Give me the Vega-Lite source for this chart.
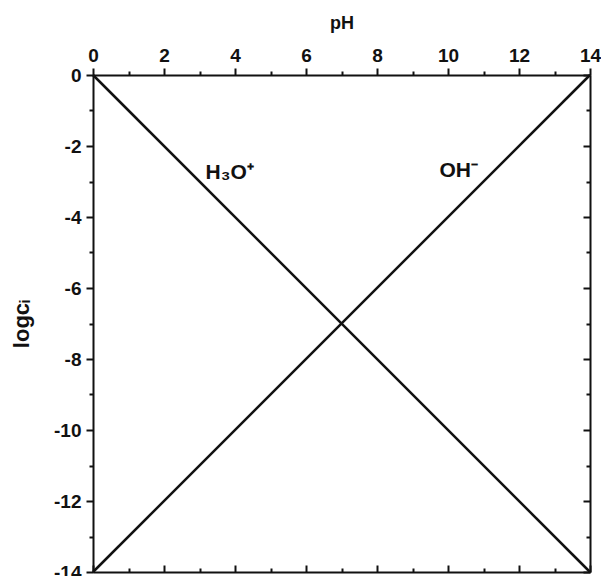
{
  "$schema": "https://vega.github.io/schema/vega-lite/v6.json",
  "autosize": {"type": "none"},
  "width": 497,
  "height": 497,
  "padding": {"left": 93, "top": 75, "right": 11, "bottom": 4},
  "background": "white",
  "config": {
    "view": {"stroke": null},
    "font": "Liberation Sans",
    "axis": {
      "labelFont": "Liberation Sans",
      "labelFontWeight": "bold",
      "labelFontSize": 19,
      "labelColor": "#111",
      "labelFlush": false,
      "labelOverlap": false,
      "titleFont": "Liberation Sans",
      "titleFontWeight": "bold",
      "titleColor": "#111",
      "domainColor": "#111",
      "domainWidth": 2,
      "tickColor": "#111",
      "tickWidth": 2,
      "grid": false
    }
  },
  "datasets": {
    "lines": [
      {"pH": 0, "logc": 0, "species": "H3O+"},
      {"pH": 14, "logc": -14, "species": "H3O+"},
      {"pH": 0, "logc": -14, "species": "OH-"},
      {"pH": 14, "logc": 0, "species": "OH-"}
    ],
    "labels": [
      {"pH": 3.85, "logc": -2.75, "label": "H₃O⁺"},
      {"pH": 10.3, "logc": -2.7, "label": "OH⁻"}
    ]
  },
  "resolve": {"axis": {"x": "independent", "y": "independent"}},
  "layer": [
    {
      "data": {"name": "lines"},
      "mark": {"type": "line", "color": "#111", "strokeWidth": 2.5, "clip": false},
      "encoding": {
        "x": {
          "field": "pH", "type": "quantitative",
          "scale": {"domain": [0, 14], "nice": false, "zero": false},
          "axis": {
            "orient": "top", "title": "pH", "titleFontSize": 18, "titlePadding": 14,
            "values": [0,1,2,3,4,5,6,7,8,9,10,11,12,13,14],
            "labelExpr": "datum.value % 2 === 0 ? '' + datum.value : ''",
            "tickSize": {"condition": {"test": "datum.value % 2 === 1", "value": 4}, "value": 7},
            "labelPadding": 3
          }
        },
        "y": {
          "field": "logc", "type": "quantitative",
          "scale": {"domain": [-14, 0], "nice": false, "zero": false},
          "axis": {
            "orient": "left", "title": "logcᵢ", "titleFontSize": 22, "titlePadding": 20,
            "values": [0,-1,-2,-3,-4,-5,-6,-7,-8,-9,-10,-11,-12,-13,-14],
            "labelExpr": "datum.value % 2 === 0 ? '' + datum.value : ''",
            "tickSize": {"condition": {"test": "datum.value % 2 !== 0", "value": 4}, "value": 7},
            "labelPadding": 5
          }
        },
        "detail": {"field": "species"}
      }
    },
    {
      "data": {"name": "labels"},
      "mark": {"type": "text", "font": "Liberation Sans", "fontWeight": "bold", "fontSize": 21, "color": "#111"},
      "encoding": {
        "x": {
          "field": "pH", "type": "quantitative",
          "axis": {
            "orient": "bottom", "title": null, "labels": false,
            "values": [0,1,2,3,4,5,6,7,8,9,10,11,12,13,14],
            "tickSize": {"condition": {"test": "datum.value % 2 === 1", "value": -4}, "value": -7}
          }
        },
        "y": {
          "field": "logc", "type": "quantitative",
          "axis": {
            "orient": "right", "title": null, "labels": false,
            "values": [0,-1,-2,-3,-4,-5,-6,-7,-8,-9,-10,-11,-12,-13,-14],
            "tickSize": {"condition": {"test": "datum.value % 2 !== 0", "value": -4}, "value": -7}
          }
        },
        "text": {"field": "label"}
      }
    }
  ]
}
